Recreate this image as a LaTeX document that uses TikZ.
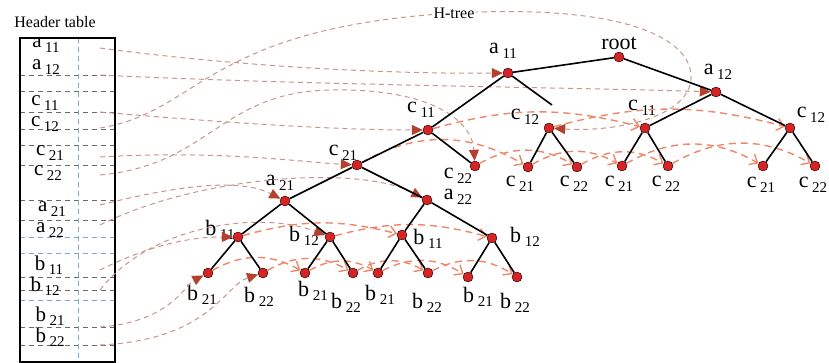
\documentclass[tikz,border=0pt]{standalone}
\usepackage{fontspec}
\setmainfont{Liberation Serif}
\usetikzlibrary{arrows.meta}
\definecolor{nodered}{RGB}{215,35,35}
\definecolor{tipred}{RGB}{180,65,45}
\definecolor{linkgray}{RGB}{195,150,140}
\definecolor{sideorange}{RGB}{238,135,105}
\definecolor{rowgray}{RGB}{105,105,105}
\definecolor{rowblue}{RGB}{120,170,205}
\newcommand{\itm}[2]{#1\,\raisebox{-0.45ex}{\fontsize{15}{15}\selectfont #2}}
\tikzset{
	dot/.style={circle,draw=black,fill=nodered,inner sep=0pt,minimum size=10pt},
	lbl/.style={font=\fontsize{22}{22}\selectfont,inner sep=0pt},
	tlbl/.style={font=\fontsize{21}{21}\selectfont,inner sep=0pt},
	edge/.style={line width=1.6pt},
	hlink/.style={draw=linkgray,dash pattern=on 5pt off 4pt,line width=1pt,-{Triangle[color=tipred,length=11pt,width=10pt]}},
	slink/.style={draw=sideorange,dash pattern=on 7pt off 5pt,line width=1.4pt,-{Straight Barb[length=7pt,width=12pt]}},
	rowline/.style={dash pattern=on 5pt off 4pt,line width=0.7pt}
}
\begin{document}
\begin{tikzpicture}[x=1pt,y=1pt]
	\useasboundingbox (0,0) rectangle (829,-363);
	% header table
	\node[font=\fontsize{16}{16}\selectfont] (title) at (55,-22) {Header table};
	\foreach \y/\c in {75/rowgray,91/rowgray,112/rowgray,129/rowgray,145/rowgray,165/rowgray,200/rowgray,220/rowgray,237/rowblue,253/rowblue,277/rowgray,290/rowgray,300/rowblue,327/rowgray,345/rowgray}
		\draw[rowline,\c] (20,-\y) -- (115,-\y);
	\draw[rowline,rowblue] (78,-38) -- (78,-363);
	\draw[line width=1.5pt] (20,-38) rectangle (115,-362);
	\node[tlbl] (ta11) at (46,-45) {\itm{a}{11}};
	\node[tlbl] (ta12) at (46,-67) {\itm{a}{12}};
	\node[tlbl] (tc11) at (45,-103) {\itm{c}{11}};
	\node[tlbl] (tc12) at (45,-124) {\itm{c}{12}};
	\node[tlbl] (tc21) at (50,-153) {\itm{c}{21}};
	\node[tlbl] (tc22) at (48,-173) {\itm{c}{22}};
	\node[tlbl] (ta21) at (52,-209) {\itm{a}{21}};
	\node[tlbl] (ta22) at (50,-230) {\itm{a}{22}};
	\node[tlbl] (tb11) at (49,-265) {\itm{b}{11}};
	\node[tlbl] (tb12) at (45,-286) {\itm{b}{12}};
	\node[tlbl] (tb21) at (50,-316) {\itm{b}{21}};
	\node[tlbl] (tb22) at (50,-337) {\itm{b}{22}};
	\foreach \n/\y in {a11/48,a12/75,c11/112,c12/128,c21/157,c22/175,a21/205,a22/225,b11/270,b12/290,b21/327,b22/345}
		\coordinate (h\n) at (100,-\y);
	% tree nodes
	\node[dot] (root) at (619,-57) {};
	\node[dot] (a11) at (508,-73) {};
	\node[dot] (a12) at (716,-92) {};
	\node[dot] (c11a) at (428,-130) {};
	\node[dot] (c12a) at (549,-128) {};
	\node[dot] (c11b) at (645,-128) {};
	\node[dot] (c12b) at (790,-128) {};
	\node[dot] (c21a) at (357,-165) {};
	\node[dot] (c22a) at (475,-166) {};
	\node[dot] (c21b) at (528,-167) {};
	\node[dot] (c22b) at (577,-167) {};
	\node[dot] (c21c) at (622,-166) {};
	\node[dot] (c22c) at (668,-166) {};
	\node[dot] (c21d) at (763,-166) {};
	\node[dot] (c22d) at (815,-166) {};
	\node[dot] (a21) at (285,-201) {};
	\node[dot] (a22) at (427,-200) {};
	\node[dot] (b11a) at (238,-237) {};
	\node[dot] (b12a) at (330,-237) {};
	\node[dot] (b11b) at (402,-235) {};
	\node[dot] (b12b) at (492,-238) {};
	\node[dot] (b21a) at (208,-273) {};
	\node[dot] (b22a) at (263,-273) {};
	\node[dot] (b21b) at (305,-273) {};
	\node[dot] (b22b) at (353,-273) {};
	\node[dot] (b21c) at (378,-273) {};
	\node[dot] (b22c) at (428,-273) {};
	\node[dot] (b21d) at (468,-277) {};
	\node[dot] (b22d) at (517,-277) {};
	\coordinate (c12stub) at (552,-105);
	% labels
	\node[lbl] (lroot) at (619,-43) {root};
	\node[lbl] (la11) at (503,-51) {\itm{a}{11}};
	\node[lbl] (la12) at (718,-72) {\itm{a}{12}};
	\node[lbl] (lc11a) at (421,-110) {\itm{c}{11}};
	\node[lbl] (lc12a) at (525,-117) {\itm{c}{12}};
	\node[lbl] (lc11b) at (642,-108) {\itm{c}{11}};
	\node[lbl] (lc12b) at (811,-115) {\itm{c}{12}};
	\node[lbl] (lc21a) at (343,-153) {\itm{c}{21}};
	\node[lbl] (lc22a) at (458,-176) {\itm{c}{22}};
	\node[lbl] (lc21b) at (520,-184) {\itm{c}{21}};
	\node[lbl] (lc22b) at (574,-184) {\itm{c}{22}};
	\node[lbl] (lc21c) at (619,-184) {\itm{c}{21}};
	\node[lbl] (lc22c) at (666,-184) {\itm{c}{22}};
	\node[lbl] (lc21d) at (761,-185) {\itm{c}{21}};
	\node[lbl] (lc22d) at (813,-185) {\itm{c}{22}};
	\node[lbl] (la21) at (280,-183) {\itm{a}{21}};
	\node[lbl] (la22) at (458,-197) {\itm{a}{22}};
	\node[lbl] (lb11a) at (220,-230) {\itm{b}{11}};
	\node[lbl] (lb12a) at (304,-236) {\itm{b}{12}};
	\node[lbl] (lb11b) at (428,-239) {\itm{b}{11}};
	\node[lbl] (lb12b) at (525,-237) {\itm{b}{12}};
	\node[lbl] (lb21a) at (202,-295) {\itm{b}{21}};
	\node[lbl] (lb22a) at (259,-297) {\itm{b}{22}};
	\node[lbl] (lb21b) at (313,-291) {\itm{b}{21}};
	\node[lbl] (lb22b) at (346,-303) {\itm{b}{22}};
	\node[lbl] (lb21c) at (380,-295) {\itm{b}{21}};
	\node[lbl] (lb22c) at (427,-303) {\itm{b}{22}};
	\node[lbl] (lb21d) at (478,-297) {\itm{b}{21}};
	\node[lbl] (lb22d) at (515,-303) {\itm{b}{22}};
	% links from the header table
	\draw[hlink] (ha11) .. controls (250,-68) and (400,-74) .. (a11);
	\draw[hlink] (ha12) .. controls (300,-85) and (600,-88) .. (a12);
	\draw[hlink] (hc11) .. controls (250,-125) and (350,-130) .. (c11a);
	\draw[hlink] (hc12) .. controls (200,-112) and (205,-28) .. (454,-13) node[fill=white,font=\fontsize{16}{16}\selectfont,inner sep=2pt] (htree) {H-tree}
		.. controls (640,-3) and (700,-45) .. (690,-85) .. controls (680,-120) and (610,-132) .. (c12a);
	\draw[hlink] (hc21) .. controls (220,-150) and (300,-162) .. (c21a);
	\draw[hlink] (hc22) .. controls (210,-165) and (220,-92) .. (330,-90) .. controls (430,-88) and (472,-120) .. (c22a);
	\draw[hlink] (ha21) .. controls (180,-185) and (240,-178) .. (a21);
	\draw[hlink] (ha22) .. controls (200,-175) and (360,-165) .. (a22);
	\draw[hlink] (hb11) .. controls (150,-245) and (190,-237) .. (b11a);
	\draw[hlink] (hb12) .. controls (150,-225) and (260,-210) .. (b12a);
	\draw[hlink] (hb21) .. controls (170,-322) and (185,-285) .. (b21a);
	\draw[hlink] (hb22) .. controls (210,-340) and (225,-285) .. (b22a);
	% side links between equal items
	\draw[slink] (c11a) to[bend left=15] (c11b);
	\draw[slink] (c12a) to[bend left=15] (c12b);
	\draw[slink] (b11a) to[bend left=15] (b11b);
	\draw[slink] (b12a) to[bend left=15] (b12b);
	\foreach \s/\t in {c21a/c21b,c21b/c21c,c21c/c21d,c22a/c22b,c22b/c22c,c22c/c22d,b21a/b21b,b21b/b21c,b21c/b21d,b22a/b22b,b22b/b22c,b22c/b22d}
		\draw[slink] (\s) to[bend left=30] (\t);
	% tree edges
	\foreach \p/\q in {root/a11,root/a12,a11/c11a,a11/c12stub,a12/c11b,a12/c12b,c12a/c21b,c12a/c22b,c11b/c21c,c11b/c22c,c12b/c21d,c12b/c22d,c11a/c21a,c11a/c22a,c21a/a21,c21a/a22,a21/b11a,a21/b12a,a22/b11b,a22/b12b,b11a/b21a,b11a/b22a,b12a/b21b,b12a/b22b,b11b/b21c,b11b/b22c,b12b/b21d,b12b/b22d}
		\draw[edge] (\p) -- (\q);
\end{tikzpicture}
\end{document}
